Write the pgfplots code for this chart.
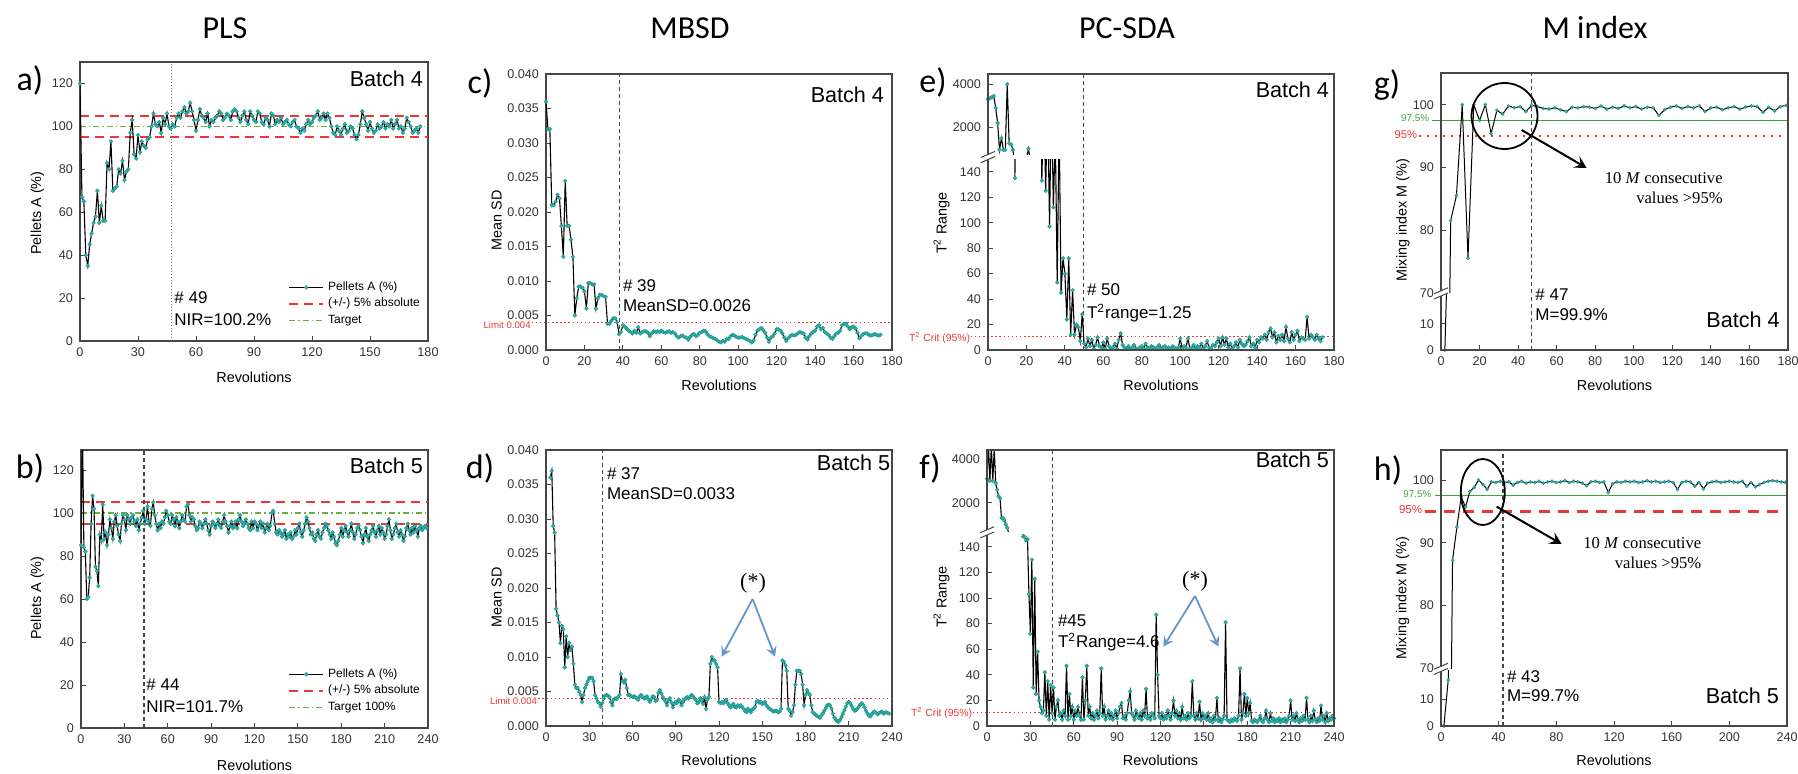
\documentclass[border=0pt]{standalone}
\usepackage{pgfplots}
\pgfplotsset{compat=1.18}
\usepackage{pgfplotstable}
\usepackage{fontspec}
\setmainfont{Liberation Sans}
\newfontfamily\calibri{Carlito}
\newfontfamily\timesf{Liberation Serif}
\usetikzlibrary{arrows.meta}
\definecolor{tq}{RGB}{40,180,170}
\definecolor{refred}{RGB}{235,55,55}
\definecolor{refgreen}{RGB}{110,170,60}
\definecolor{gline}{RGB}{60,165,60}
\definecolor{arrblue}{RGB}{100,150,205}
\definecolor{axgray}{RGB}{70,70,70}
\tikzset{
  vline/.style={axgray, line width=0.55pt, dash pattern=on 2pt off 1.5pt},
  txt/.style={font=\fontsize{8.5}{10}\selectfont, anchor=west, inner sep=0pt},
  batch/.style={font=\fontsize{10.8}{12}\selectfont, anchor=east, inner sep=0pt},
  ylab/.style={font=\fontsize{7.2}{8}\selectfont, rotate=90, inner sep=0pt},
  xlab/.style={font=\fontsize{7.2}{8}\selectfont, inner sep=0pt},
  ttl/.style={font=\calibri\fontsize{16}{18}\selectfont, inner sep=0pt},
  plab/.style={font=\calibri\fontsize{17}{19}\selectfont, inner sep=0pt},
  frame/.style={axgray, line width=0.55pt},
}
\pgfplotsset{
  base/.style={scale only axis, anchor=south west, clip mode=individual,
    axis line style={axgray, line width=0.55pt},
    tick align=inside, tick pos=left, major tick length=2.5pt,
    tick style={axgray, line width=0.45pt},
    tick label style={font=\fontsize{6.3}{7}\selectfont, text=black!80},
    /pgf/number format/assume math mode=true,
    /pgf/number format/set thousands separator={}},
  noframe/.style={axis line style={draw=none}},
  dat/.style={black, line width=0.55pt, mark=*, mark size=0.95pt,
    mark options={draw=tq!80!black, fill=tq, line width=0.2pt, solid}},
  datm/.style={black, line width=0.5pt, mark=*, mark size=0.8pt,
    mark options={draw=tq!80!black, fill=tq, line width=0.2pt, solid}},
}
\begin{document}
\pgfplotstableread[row sep=\\]{x y\\
0 120\\1 67\\2 65\\3 40\\4 35\\5 45\\6 50\\7 55\\8 58\\9 70\\
10 55\\11 63\\12 56\\13 56\\14 83\\15 80\\16 93\\17 70\\18 71\\19 72\\
20 80\\21 78\\22 84\\23 75\\24 79\\25 80\\26 97\\27 103\\28 87\\29 85\\
30 96\\31 88\\32 93\\33 91\\34 90\\35 94\\36 95\\37 100\\38 106\\39 101\\
40 100\\41 102\\42 97\\43 104\\44 101\\45 106\\46 100\\47 99\\48 101\\49 100\\
50 104\\51 106\\52 104\\53 107\\54 109\\55 106\\56 107\\57 111\\58 107\\59 103\\
60 98\\61 103\\62 108\\63 105\\64 104\\65 102\\66 106\\67 100\\68 103\\69 102\\
70 104\\71 105\\72 107\\73 106\\74 103\\75 104\\76 106\\77 105\\78 103\\79 107\\
80 108\\81 107\\82 104\\83 102\\84 105\\85 107\\86 103\\87 101\\88 107\\89 105\\
90 103\\91 102\\92 107\\93 106\\94 102\\95 101\\96 104\\97 103\\98 100\\99 106\\
100 105\\101 101\\102 103\\103 102\\104 104\\105 101\\106 102\\107 103\\108 101\\109 100\\
110 102\\111 103\\112 100\\113 99\\114 97\\115 99\\116 98\\117 101\\118 103\\119 101\\
120 102\\121 104\\122 105\\123 107\\124 103\\125 104\\126 106\\127 103\\128 106\\129 104\\
130 100\\131 97\\132 96\\133 100\\134 98\\135 96\\136 99\\137 101\\138 97\\139 98\\
140 100\\141 99\\142 96\\143 94\\144 96\\145 101\\146 107\\147 104\\148 101\\149 98\\
150 102\\151 99\\152 97\\153 98\\154 101\\155 99\\156 100\\157 102\\158 99\\159 101\\
160 100\\161 103\\162 99\\163 101\\164 103\\165 99\\166 100\\167 97\\168 99\\169 104\\
170 102\\171 100\\172 97\\173 98\\174 99\\175 97\\176 100\\
}\tabA
\pgfplotstableread[row sep=\\]{x y\\
0 85\\1 140\\2 84\\3 82\\4 60\\5 61\\6 70\\7 95\\8 108\\9 102\\
10 75\\11 73\\12 66\\13 90\\14 87\\15 104\\16 88\\17 91\\18 85\\19 90\\
20 97\\21 93\\22 88\\23 96\\24 99\\25 94\\26 90\\27 87\\28 95\\29 99\\
30 97\\31 92\\32 99\\33 97\\34 95\\35 98\\36 99\\37 96\\38 94\\39 97\\
40 92\\41 95\\42 98\\43 101\\44 95\\45 97\\46 103\\47 96\\48 94\\49 102\\
50 105\\51 99\\52 95\\53 92\\54 95\\55 93\\56 96\\57 95\\58 98\\59 101\\
60 99\\61 96\\62 95\\63 99\\64 97\\65 94\\66 98\\67 96\\68 93\\69 96\\
70 99\\71 97\\72 96\\73 103\\74 104\\75 99\\76 96\\77 98\\78 97\\79 94\\
80 92\\81 93\\82 96\\83 95\\84 93\\85 95\\86 97\\87 95\\88 92\\89 90\\
90 94\\91 96\\92 95\\93 93\\94 95\\95 97\\96 94\\97 93\\98 96\\99 99\\
100 96\\101 94\\102 91\\103 94\\104 96\\105 93\\106 94\\107 96\\108 93\\109 97\\
110 99\\111 96\\112 94\\113 95\\114 97\\115 95\\116 93\\117 92\\118 96\\119 93\\
120 96\\121 95\\122 92\\123 94\\124 96\\125 93\\126 95\\127 91\\128 93\\129 95\\
130 92\\131 94\\132 100\\133 101\\134 95\\135 91\\136 90\\137 92\\138 91\\139 89\\
140 90\\141 92\\142 88\\143 90\\144 89\\145 91\\146 88\\147 89\\148 92\\149 90\\
150 93\\151 95\\152 91\\153 89\\154 92\\155 95\\156 98\\157 96\\158 93\\159 90\\
160 91\\161 88\\162 87\\163 90\\164 92\\165 89\\166 88\\167 91\\168 93\\169 95\\
170 94\\171 92\\172 90\\173 88\\174 91\\175 89\\176 86\\177 85\\178 87\\179 90\\
180 93\\181 89\\182 92\\183 94\\184 91\\185 89\\186 92\\187 95\\188 91\\189 88\\
190 90\\191 93\\192 94\\193 92\\194 89\\195 86\\196 90\\197 93\\198 89\\199 87\\
200 90\\201 92\\202 94\\203 91\\204 89\\205 92\\206 94\\207 90\\208 93\\209 91\\
210 88\\211 90\\212 94\\213 97\\214 92\\215 88\\216 90\\217 93\\218 95\\219 91\\
220 89\\221 92\\222 90\\223 87\\224 89\\225 93\\226 95\\227 92\\228 90\\229 93\\
230 91\\231 94\\232 92\\233 89\\234 93\\235 94\\236 92\\237 93\\238 94\\239 93\\
}\tabB
\pgfplotstableread[row sep=\\]{x y\\
0 0.036\\1 0.032\\2 0.032\\3 0.021\\4 0.021\\5 0.0215\\6 0.0225\\7 0.022\\8 0.018\\9 0.0135\\
10 0.0245\\11 0.018\\12 0.018\\13 0.016\\14 0.0135\\15 0.005\\16 0.0075\\17 0.0092\\18 0.0092\\19 0.009\\
20 0.0085\\21 0.006\\22 0.0097\\23 0.0097\\24 0.0095\\25 0.0095\\26 0.006\\27 0.0075\\28 0.008\\29 0.008\\
30 0.0078\\31 0.0077\\32 0.0038\\33 0.0038\\34 0.0042\\35 0.0046\\36 0.0046\\37 0.0040\\38 0.0023\\39 0.0026\\
40 0.0036\\41 0.0034\\42 0.0031\\43 0.0028\\44 0.0026\\45 0.0024\\46 0.0028\\47 0.0025\\48 0.0033\\49 0.0024\\
50 0.0026\\51 0.0027\\52 0.0027\\53 0.0025\\54 0.0020\\55 0.0024\\56 0.0027\\57 0.0026\\58 0.0027\\59 0.0026\\
60 0.0028\\61 0.0026\\62 0.0025\\63 0.0026\\64 0.0027\\65 0.0025\\66 0.0026\\67 0.0024\\68 0.0020\\69 0.0018\\
70 0.0020\\71 0.0021\\72 0.0019\\73 0.0018\\74 0.0015\\75 0.0019\\76 0.0022\\77 0.0023\\78 0.0020\\79 0.0022\\
80 0.0025\\81 0.0026\\82 0.0028\\83 0.0027\\84 0.0023\\85 0.0020\\86 0.0019\\87 0.0017\\88 0.0016\\89 0.0014\\
90 0.0012\\91 0.0011\\92 0.0013\\93 0.0012\\94 0.0016\\95 0.0016\\96 0.0020\\97 0.0022\\98 0.0021\\99 0.0019\\
100 0.0018\\101 0.0018\\102 0.0019\\103 0.0017\\104 0.0016\\105 0.0015\\106 0.0013\\107 0.0011\\108 0.0014\\109 0.0022\\
110 0.0028\\111 0.0030\\112 0.0032\\113 0.0029\\114 0.0025\\115 0.0018\\116 0.0012\\117 0.0018\\118 0.0020\\119 0.0024\\
120 0.0030\\121 0.0030\\122 0.0028\\123 0.0024\\124 0.0018\\125 0.0013\\126 0.0017\\127 0.0020\\128 0.0022\\129 0.0021\\
130 0.0022\\131 0.0024\\132 0.0026\\133 0.0025\\134 0.0024\\135 0.0018\\136 0.0015\\137 0.0020\\138 0.0024\\139 0.0026\\
140 0.0028\\141 0.0034\\142 0.0036\\143 0.0030\\144 0.0032\\145 0.0026\\146 0.0024\\147 0.0022\\148 0.0018\\149 0.0016\\
150 0.0020\\151 0.0024\\152 0.0025\\153 0.0028\\154 0.0036\\155 0.0038\\156 0.0038\\157 0.0034\\158 0.0030\\159 0.0033\\
160 0.0034\\161 0.0031\\162 0.0025\\163 0.0017\\164 0.0020\\165 0.0023\\166 0.0024\\167 0.0024\\168 0.0022\\169 0.0021\\
170 0.0022\\171 0.0023\\172 0.0022\\173 0.0021\\174 0.0022\\
}\tabC
\pgfplotstableread[row sep=\\]{x y\\
3 0.036\\4 0.037\\5 0.029\\6 0.028\\7 0.017\\8 0.016\\9 0.015\\
10 0.012\\11 0.0145\\12 0.014\\13 0.0085\\14 0.013\\15 0.010\\16 0.012\\17 0.011\\18 0.0115\\19 0.009\\
20 0.006\\21 0.0055\\22 0.0055\\23 0.005\\24 0.0045\\25 0.0035\\26 0.0045\\27 0.0055\\28 0.006\\29 0.0065\\
30 0.007\\31 0.007\\32 0.007\\33 0.0065\\34 0.0045\\35 0.004\\36 0.0035\\37 0.0033\\38 0.0028\\39 0.0033\\
40 0.004\\41 0.0044\\42 0.0045\\43 0.0044\\44 0.0042\\45 0.0035\\46 0.0030\\47 0.0038\\48 0.0040\\49 0.0039\\
50 0.0042\\51 0.0045\\52 0.0075\\53 0.0065\\54 0.0063\\55 0.0067\\56 0.0055\\57 0.0045\\58 0.0045\\59 0.0043\\
60 0.0042\\61 0.0043\\62 0.0042\\63 0.0040\\64 0.0038\\65 0.0043\\66 0.0045\\67 0.0043\\68 0.0040\\69 0.0041\\
70 0.0043\\71 0.0039\\72 0.0035\\73 0.0039\\74 0.0043\\75 0.0042\\76 0.0036\\77 0.0038\\78 0.0048\\79 0.0052\\
80 0.0047\\81 0.0042\\82 0.0038\\83 0.0035\\84 0.0030\\85 0.0038\\86 0.0040\\87 0.0034\\88 0.0027\\89 0.0032\\
90 0.0035\\91 0.0033\\92 0.0038\\93 0.0036\\94 0.0030\\95 0.0035\\96 0.0038\\97 0.0040\\98 0.0042\\99 0.0040\\
100 0.0043\\101 0.0045\\102 0.0043\\103 0.0040\\104 0.0038\\105 0.0033\\106 0.0035\\107 0.0040\\108 0.0037\\109 0.0032\\
110 0.0042\\111 0.0025\\112 0.0038\\113 0.0042\\114 0.0090\\115 0.0100\\116 0.0095\\117 0.0095\\118 0.0090\\119 0.0085\\
120 0.0035\\121 0.0033\\122 0.0035\\123 0.0033\\124 0.0036\\125 0.0038\\126 0.0033\\127 0.0030\\128 0.0027\\129 0.0030\\
130 0.0032\\131 0.0028\\132 0.0027\\133 0.0030\\134 0.0028\\135 0.0030\\136 0.0028\\137 0.0025\\138 0.0022\\139 0.0020\\
140 0.0025\\141 0.0022\\142 0.0020\\143 0.0024\\144 0.0025\\145 0.0028\\146 0.0035\\147 0.0036\\148 0.0034\\149 0.0035\\
150 0.0032\\151 0.0033\\152 0.0035\\153 0.0030\\154 0.0027\\155 0.0025\\156 0.0024\\157 0.0022\\158 0.0021\\159 0.0022\\
160 0.0022\\161 0.0020\\162 0.0021\\163 0.0025\\164 0.0095\\165 0.0093\\166 0.0088\\167 0.0080\\168 0.0025\\169 0.0022\\
170 0.0015\\171 0.0020\\172 0.0030\\173 0.0060\\174 0.0080\\175 0.0080\\176 0.0080\\177 0.0075\\178 0.0060\\179 0.0030\\
180 0.0045\\181 0.0052\\182 0.0048\\183 0.0045\\184 0.0030\\185 0.0020\\186 0.0018\\187 0.0016\\188 0.0015\\189 0.0013\\
190 0.0012\\191 0.0015\\192 0.0018\\193 0.0022\\194 0.0026\\195 0.0030\\196 0.0031\\197 0.0030\\198 0.0025\\199 0.0018\\
200 0.0012\\201 0.0009\\202 0.0007\\203 0.0006\\204 0.0009\\205 0.0013\\206 0.0018\\207 0.0023\\208 0.0028\\209 0.0033\\
210 0.0035\\211 0.0033\\212 0.0029\\213 0.0025\\214 0.0022\\215 0.0023\\216 0.0025\\217 0.0028\\218 0.0031\\219 0.0033\\
220 0.0031\\221 0.0027\\222 0.0022\\223 0.0018\\224 0.0015\\225 0.0014\\226 0.0017\\227 0.0020\\228 0.0021\\229 0.0019\\
230 0.0017\\231 0.0019\\232 0.0020\\233 0.0021\\234 0.0018\\235 0.0019\\236 0.0020\\237 0.0019\\238 0.0018\\
}\tabD
\pgfplotstableread[row sep=\\]{x y\\
0 3300\\1 3350\\2 3400\\3 3450\\4 2900\\5 2200\\6 950\\7 1500\\8 950\\9 950\\
10 4000\\11 1250\\12 1200\\13 950\\14 135\\15 450\\16 400\\17 500\\18 350\\19 600\\
20 500\\21 1000\\22 500\\23 400\\24 300\\25 250\\26 220\\27 250\\28 133\\29 200\\
30 125\\31 200\\32 97\\33 200\\34 112\\35 170\\36 53\\37 180\\38 45\\39 72\\
40 60\\41 24\\42 72\\43 12\\44 47\\45 12\\46 20\\47 18\\48 7\\49 28\\
50 5\\51 2\\52 9\\53 3\\54 8\\55 1\\56 4\\57 10\\58 3\\59 2\\
60 6\\61 1\\62 9\\63 3\\64 1\\65 2\\66 5\\67 1\\68 8\\69 13\\
70 4\\71 2\\72 1\\73 3\\74 1\\75 2\\76 4\\77 1\\78 1\\79 2\\
80 3\\81 1\\82 5\\83 2\\84 1\\85 3\\86 2\\87 1\\88 2\\89 4\\
90 1\\91 2\\92 3\\93 1\\94 2\\95 1\\96 3\\97 2\\98 1\\99 2\\
100 9\\101 1\\102 3\\103 2\\104 9\\105 1\\106 2\\107 4\\108 1\\109 3\\
110 2\\111 5\\112 1\\113 3\\114 7\\115 2\\116 1\\117 4\\118 3\\119 6\\
120 9\\121 3\\122 10\\123 4\\124 9\\125 2\\126 5\\127 1\\128 3\\129 6\\
130 2\\131 8\\132 5\\133 3\\134 4\\135 7\\136 10\\137 3\\138 5\\139 2\\
140 8\\141 6\\142 10\\143 9\\144 12\\145 8\\146 14\\147 17\\148 10\\149 14\\
150 6\\151 11\\152 8\\153 12\\154 7\\155 18\\156 9\\157 6\\158 14\\159 8\\
160 12\\161 15\\162 7\\163 10\\164 9\\165 8\\166 26\\167 9\\168 12\\169 10\\
170 8\\171 12\\172 9\\173 7\\174 10\\
}\tabE
\pgfplotstableread[row sep=\\]{x y\\
0 3100\\1 4600\\2 3000\\3 4600\\4 3000\\5 4500\\6 2900\\7 2600\\8 2300\\9 2200\\
10 1300\\11 1300\\12 1200\\13 1000\\14 850\\15 600\\16 500\\17 450\\18 400\\19 380\\
20 350\\21 320\\22 300\\23 280\\24 250\\25 148\\26 148\\27 145\\28 146\\29 103\\
30 72\\31 130\\32 30\\33 115\\34 25\\35 58\\36 20\\37 15\\38 10\\39 12\\
40 42\\41 8\\42 35\\43 5\\44 32\\45 10\\46 30\\47 5\\48 15\\49 20\\
50 8\\51 10\\52 5\\53 12\\54 8\\55 47\\56 5\\57 25\\58 8\\59 15\\
60 5\\61 12\\62 8\\63 15\\64 8\\65 5\\66 38\\67 5\\68 20\\69 47\\
70 8\\71 15\\72 6\\73 10\\74 5\\75 8\\76 12\\77 6\\78 10\\79 45\\
80 8\\81 15\\82 5\\83 8\\84 12\\85 6\\86 10\\87 5\\88 8\\89 12\\
90 6\\91 10\\92 15\\93 18\\94 6\\95 8\\96 5\\97 10\\98 20\\99 27\\
100 10\\101 8\\102 5\\103 12\\104 8\\105 6\\106 10\\107 5\\108 12\\109 8\\
110 29\\111 6\\112 8\\113 5\\114 10\\115 8\\116 6\\117 87\\118 40\\119 8\\
120 6\\121 10\\122 5\\123 8\\124 6\\125 12\\126 8\\127 5\\128 10\\129 20\\
130 8\\131 12\\132 6\\133 10\\134 5\\135 15\\136 6\\137 8\\138 5\\139 10\\
140 6\\141 8\\142 35\\143 8\\144 5\\145 10\\146 6\\147 19\\148 5\\149 10\\
150 6\\151 8\\152 5\\153 10\\154 4\\155 6\\156 3\\157 8\\158 5\\159 22\\
160 4\\161 6\\162 3\\163 5\\164 8\\165 81\\166 5\\167 4\\168 3\\169 5\\
170 4\\171 6\\172 5\\173 4\\174 8\\175 45\\176 5\\177 10\\178 25\\179 8\\
180 22\\181 10\\182 18\\183 4\\184 3\\185 5\\186 4\\187 3\\188 5\\189 8\\
190 4\\191 3\\192 6\\193 12\\194 5\\195 3\\196 10\\197 4\\198 6\\199 3\\
200 5\\201 4\\202 6\\203 3\\204 5\\205 4\\206 6\\207 3\\208 5\\209 8\\
210 20\\211 5\\212 8\\213 4\\214 10\\215 5\\216 3\\217 6\\218 4\\219 8\\
220 5\\221 22\\222 5\\223 3\\224 8\\225 4\\226 12\\227 5\\228 3\\229 6\\
230 4\\231 16\\232 5\\233 8\\234 3\\235 10\\236 4\\237 6\\238 5\\239 8\\240 6\\
}\tabF
\pgfplotstableread[row sep=\\]{x y\\
2 0\\5 81.5\\8 85.5\\11 100\\14 75.5\\17 100\\20 97.5\\23 100\\26 95.4\\29 99.1\\
32 98.5\\35 99.8\\38 99.5\\41 99.7\\44 98.9\\47 99.9\\50 99.7\\53 99.4\\56 99.3\\59 99.5\\
62 99.2\\65 98.9\\68 99.6\\71 99.5\\74 99.7\\77 99.6\\80 99.4\\83 99.8\\86 99.3\\89 99.6\\
92 99.4\\95 99.8\\98 99.5\\101 99.7\\104 99.3\\107 99.6\\110 99.5\\113 98.3\\116 99.2\\119 99.6\\
122 99.8\\125 99.4\\128 99.7\\131 99.5\\134 99.8\\137 98.9\\140 99.5\\143 99.6\\146 99.2\\149 99.5\\
152 99.7\\155 99.3\\158 99.6\\161 99.8\\164 99.7\\167 98.8\\170 99.6\\173 99.0\\176 99.7\\179 99.9\\
}\tabG
\pgfplotstableread[row sep=\\]{x y\\
2 0\\5 17\\8 87.2\\11 92.5\\14 97.3\\17 95.7\\20 98.2\\23 98.8\\26 100\\29 99.3\\
32 98.5\\35 99.7\\38 99.6\\41 99.8\\44 99.6\\47 99.7\\50 99.2\\53 99.6\\56 99.8\\59 99.5\\
62 99.7\\65 99.6\\68 99.8\\71 99.5\\74 99.7\\77 99.8\\80 99.6\\83 99.7\\86 99.9\\89 99.6\\
92 99.8\\95 99.7\\98 99.5\\101 99.1\\104 99.7\\107 99.8\\110 99.6\\113 99.7\\116 98.0\\119 99.4\\
122 99.7\\125 99.6\\128 99.8\\131 99.7\\134 99.8\\137 99.6\\140 99.7\\143 99.9\\146 99.7\\149 99.8\\
152 99.6\\155 99.7\\158 99.8\\161 99.6\\164 98.5\\167 99.6\\170 99.8\\173 99.7\\176 99.0\\179 99.6\\
182 98.6\\185 99.5\\188 99.7\\191 99.8\\194 99.6\\197 99.7\\200 99.8\\203 99.7\\206 99.6\\209 99.8\\
212 99.0\\215 99.6\\218 98.9\\221 99.3\\224 99.6\\227 99.8\\230 99.9\\233 99.8\\236 99.7\\239 99.6\\
}\tabH
\begin{tikzpicture}
\useasboundingbox (0pt,0pt) rectangle (899pt,386.5pt);
% ---------- a) ----------
\begin{axis}[base, at={(40pt,216pt)}, width=174pt, height=139.5pt,
  xmin=0, xmax=180, xtick={0,30,...,180}, ymin=0, ymax=130, ytick={0,20,...,120},
  legend style={at={(0.995,0.03)}, anchor=south east, draw=none, fill=none,
    font=\fontsize{6}{7}\selectfont, row sep=-1.5pt, inner sep=1pt},
  legend cell align=left]
\addplot[refred, line width=0.85pt, dash pattern=on 4.5pt off 3pt, forget plot] coordinates {(0,95) (180,95)};
\addplot[refred, line width=0.85pt, dash pattern=on 4.5pt off 3pt, forget plot] coordinates {(0,105) (180,105)};
\addplot[refgreen, line width=0.7pt, dash pattern=on 3pt off 1.5pt on 0.7pt off 1.5pt, forget plot] coordinates {(0,100) (180,100)};
\draw[black!55, line width=0.5pt, dash pattern=on 0.6pt off 0.9pt] (axis cs:47.4,0) -- (axis cs:47.4,130);
\addplot[dat] table[x=x,y=y]{\tabA};
\addlegendentry{Pellets A (\%)}
\addlegendimage{refred, line width=0.85pt, dash pattern=on 4.5pt off 3pt}
\addlegendentry{(+/-) 5\% absolute}
\addlegendimage{refgreen, line width=0.7pt, dash pattern=on 3pt off 1.5pt on 0.7pt off 1.5pt}
\addlegendentry{Target}
\end{axis}
% ---------- b) ----------
\begin{axis}[base, at={(40.5pt,22.5pt)}, width=173.5pt, height=139pt,
  xmin=0, xmax=240, xtick={0,30,...,240}, ymin=0, ymax=129.3, ytick={0,20,...,120},
  legend style={at={(0.995,0.03)}, anchor=south east, draw=none, fill=none,
    font=\fontsize{6}{7}\selectfont, row sep=-1.5pt, inner sep=1pt},
  legend cell align=left]
\addplot[refred, line width=0.85pt, dash pattern=on 4.5pt off 3pt, forget plot] coordinates {(0,95) (240,95)};
\addplot[refred, line width=0.85pt, dash pattern=on 4.5pt off 3pt, forget plot] coordinates {(0,105) (240,105)};
\addplot[refgreen, line width=0.7pt, dash pattern=on 3pt off 1.5pt on 0.7pt off 1.5pt, forget plot] coordinates {(0,100) (240,100)};
\draw[vline] (axis cs:43.6,0) -- (axis cs:43.6,129.3);
\addplot[dat] table[x=x,y=y]{\tabB};
\addlegendentry{Pellets A (\%)}
\addlegendimage{refred, line width=0.85pt, dash pattern=on 4.5pt off 3pt}
\addlegendentry{(+/-) 5\% absolute}
\addlegendimage{refgreen, line width=0.7pt, dash pattern=on 3pt off 1.5pt on 0.7pt off 1.5pt}
\addlegendentry{Target 100\%}
\end{axis}
% ---------- c) ----------
\begin{axis}[base, at={(273pt,211.5pt)}, width=173pt, height=138pt,
  xmin=0, xmax=180, xtick={0,20,...,180}, ymin=0, ymax=0.04,
  ytick={0,0.005,0.01,0.015,0.02,0.025,0.03,0.035,0.04}, scaled y ticks=false,
  yticklabel style={/pgf/number format/.cd, fixed, fixed zerofill, precision=3}]
\draw[refred, line width=0.75pt, dash pattern=on 0.75pt off 1.3pt] (axis cs:-7.5,0.004) -- (axis cs:180,0.004);
\draw[vline] (axis cs:38,0) -- (axis cs:38,0.04);
\addplot[dat] table[x=x,y=y]{\tabC};
\end{axis}
% ---------- d) ----------
\begin{axis}[base, at={(273pt,23.5pt)}, width=173pt, height=138pt,
  xmin=0, xmax=240, xtick={0,30,...,240}, ymin=0, ymax=0.04,
  ytick={0,0.005,0.01,0.015,0.02,0.025,0.03,0.035,0.04}, scaled y ticks=false,
  yticklabel style={/pgf/number format/.cd, fixed, fixed zerofill, precision=3}]
\draw[refred, line width=0.75pt, dash pattern=on 0.75pt off 1.3pt] (axis cs:-5.3,0.004) -- (axis cs:240,0.004);
\draw[vline] (axis cs:39,0) -- (axis cs:39,0.04);
\addplot[dat] table[x=x,y=y]{\tabD};
\end{axis}
% ---------- e) lower ----------
\begin{axis}[base, noframe, at={(494pt,211.5pt)}, width=173pt, height=95.5pt,
  xmin=0, xmax=180, xtick={0,20,...,180}, ymin=0, ymax=150, ytick={0,20,...,140}]
\draw[refred, line width=0.75pt, dash pattern=on 0.75pt off 1.3pt] (axis cs:-9,10.5) -- (axis cs:180,10.5);
\draw[vline] (axis cs:49.7,0) -- (axis cs:49.7,150);
\addplot[dat] table[x=x,y=y]{\tabE};
\end{axis}
% ---------- e) upper ----------
\begin{axis}[base, noframe, at={(494pt,309pt)}, width=173pt, height=40.5pt,
  xmin=0, xmax=180, xtick=\empty, ymin=712, ymax=4479, ytick={2000,4000}]
\draw[vline] (axis cs:49.7,712) -- (axis cs:49.7,4479);
\addplot[dat] table[x=x,y=y]{\tabE};
\end{axis}
% ---------- f) lower ----------
\begin{axis}[base, noframe, at={(493.5pt,23.5pt)}, width=173.5pt, height=96pt,
  xmin=0, xmax=240, xtick={0,30,...,240}, ymin=0, ymax=150, ytick={0,20,...,140}]
\draw[refred, line width=0.75pt, dash pattern=on 0.75pt off 1.3pt] (axis cs:-10,10.4) -- (axis cs:240,10.4);
\draw[vline] (axis cs:45.6,0) -- (axis cs:45.6,150);
\addplot[dat] table[x=x,y=y]{\tabF};
\end{axis}
% ---------- f) upper ----------
\begin{axis}[base, noframe, at={(493.5pt,121pt)}, width=173.5pt, height=40.5pt,
  xmin=0, xmax=240, xtick=\empty, ymin=705, ymax=4412, ytick={2000,4000}]
\draw[vline] (axis cs:45.6,705) -- (axis cs:45.6,4412);
\addplot[dat] table[x=x,y=y]{\tabF};
\end{axis}
% ---------- g) lower ----------
\begin{axis}[base, noframe, at={(720.5pt,211.5pt)}, width=173.5pt, height=27.75pt,
  xmin=0, xmax=180, xtick={0,20,...,180}, ymin=0, ymax=21.3, ytick={0,10}]
\draw[vline] (axis cs:47,0) -- (axis cs:47,21.3);
\addplot[datm] table[x=x,y=y]{\tabG};
\end{axis}
% ---------- g) upper ----------
\begin{axis}[base, noframe, at={(720.5pt,240.15pt)}, width=173.5pt, height=109.85pt,
  xmin=0, xmax=180, xtick=\empty, ymin=70, ymax=105.06, ytick={70,80,90,100}]
\draw[gline, line width=0.8pt] (axis cs:-4.9,97.5) -- (axis cs:180,97.5);
\draw[refred, line width=1.2pt, dash pattern=on 1.2pt off 2.8pt] (axis cs:-11.4,95) -- (axis cs:180,95);
\draw[vline] (axis cs:47,70) -- (axis cs:47,105.06);
\addplot[datm] table[x=x,y=y]{\tabG};
\end{axis}
% ---------- h) lower ----------
\begin{axis}[base, noframe, at={(720.5pt,23.5pt)}, width=173pt, height=28pt,
  xmin=0, xmax=240, xtick={0,40,...,240}, ymin=0, ymax=20.7, ytick={0,10}]
\draw[vline] (axis cs:43,0) -- (axis cs:43,20.7);
\addplot[datm] table[x=x,y=y]{\tabH};
\end{axis}
% ---------- h) upper ----------
\begin{axis}[base, noframe, at={(720.5pt,52.35pt)}, width=173pt, height=109.15pt,
  xmin=0, xmax=240, xtick=\empty, ymin=70, ymax=104.78, ytick={70,80,90,100}]
\draw[gline, line width=0.8pt] (axis cs:-4.2,97.5) -- (axis cs:240,97.5);
\draw[refred, line width=1.6pt, dash pattern=on 5.5pt off 4pt] (axis cs:-11,95) -- (axis cs:240,95);
\draw[vline] (axis cs:43,70) -- (axis cs:43,104.78);
\addplot[datm] table[x=x,y=y]{\tabH};
\end{axis}
% ---------- frames of broken panels ----------
\draw[frame] (494pt,211.5pt) rectangle (667pt,349.5pt);
\draw[frame] (493.5pt,23.5pt) rectangle (667pt,161.5pt);
\draw[frame] (720.5pt,211.5pt) rectangle (894pt,350pt);
\draw[frame] (720.5pt,23.5pt) rectangle (893.5pt,161.5pt);
\foreach \bx/\by in {494/308, 493.5/120.3, 720.5/239.8, 720.5/52.1}{
  \fill[white] (\bx pt-2.5pt,\by pt-1.1pt) rectangle (\bx pt+2.5pt,\by pt+1.1pt);
  \draw[axgray, line width=0.5pt] (\bx pt-3.5pt,\by pt-2.8pt) -- (\bx pt+3.5pt,\by pt+0.2pt);
  \draw[axgray, line width=0.5pt] (\bx pt-3.5pt,\by pt-0.2pt) -- (\bx pt+3.5pt,\by pt+2.8pt);
}
% ---------- titles and panel letters ----------
\node[ttl] at (112.5pt,372.5pt) {PLS};
\node[ttl] at (345pt,372.5pt) {MBSD};
\node[ttl] at (563.5pt,372.5pt) {PC-SDA};
\node[ttl] at (797.5pt,372.5pt) {M index};
\node[plab] at (15pt,346.5pt) {a)};
\node[plab] at (15pt,152.3pt) {b)};
\node[plab] at (240pt,345pt) {c)};
\node[plab] at (240pt,152.5pt) {d)};
\node[plab] at (466.5pt,345.5pt) {e)};
\node[plab] at (465pt,152.5pt) {f)};
\node[plab] at (693.5pt,344pt) {g)};
\node[plab] at (694pt,151.5pt) {h)};
% ---------- axis labels ----------
\node[xlab] at (127pt,198pt) {Revolutions};
\node[xlab] at (359.5pt,194pt) {Revolutions};
\node[xlab] at (580.5pt,194pt) {Revolutions};
\node[xlab] at (807.25pt,194pt) {Revolutions};
\node[xlab] at (127.25pt,4pt) {Revolutions};
\node[xlab] at (359.5pt,6.2pt) {Revolutions};
\node[xlab] at (580.25pt,6.2pt) {Revolutions};
\node[xlab] at (807pt,6.2pt) {Revolutions};
\node[ylab] at (18.7pt,280pt) {Pellets A (\%)};
\node[ylab] at (18.7pt,87.5pt) {Pellets A (\%)};
\node[ylab] at (248.3pt,276.5pt) {Mean SD};
\node[ylab] at (248.3pt,88pt) {Mean SD};
\node[ylab] at (470.8pt,275pt) {T\textsuperscript{2} Range};
\node[ylab] at (470.8pt,88pt) {T\textsuperscript{2} Range};
\node[ylab] at (701.5pt,276.5pt) {Mixing index M (\%)};
\node[ylab] at (701.3pt,87.5pt) {Mixing index M (\%)};
% ---------- batch labels ----------
\node[batch] at (211.7pt,347.3pt) {Batch 4};
\node[batch] at (211.7pt,153.5pt) {Batch 5};
\node[batch] at (442.2pt,339pt) {Batch 4};
\node[batch] at (445.3pt,155.2pt) {Batch 5};
\node[batch] at (664.7pt,341.8pt) {Batch 4};
\node[batch] at (664.7pt,156.5pt) {Batch 5};
\node[batch] at (890pt,226.5pt) {Batch 4};
\node[batch] at (889.7pt,38.5pt) {Batch 5};
% ---------- annotations ----------
\node[txt] at (87pt,237.5pt) {\# 49};
\node[txt] at (87pt,226.5pt) {NIR=100.2\%};
\node[txt] at (73pt,44pt) {\# 44};
\node[txt] at (73pt,33.2pt) {NIR=101.7\%};
\node[txt] at (311.3pt,243.5pt) {\# 39};
\node[txt] at (311.3pt,233.5pt) {MeanSD=0.0026};
\node[txt] at (303.3pt,149.8pt) {\# 37};
\node[txt] at (303.3pt,139.5pt) {MeanSD=0.0033};
\node[txt] at (543.3pt,241.5pt) {\# 50};
\node[txt] at (543.3pt,229.8pt) {T\textsuperscript{2}range=1.25};
\node[txt] at (528.8pt,76.2pt) {\#45};
\node[txt] at (528.8pt,65.3pt) {T\textsuperscript{2}Range=4.6};
\node[txt] at (767.5pt,239pt) {\# 47};
\node[txt] at (767.5pt,229pt) {M=99.9\%};
\node[txt] at (753.3pt,48.2pt) {\# 43};
\node[txt] at (753.3pt,38.5pt) {M=99.7\%};
% limit labels
\node[font=\fontsize{4.8}{5}\selectfont, text=refred, anchor=east, inner sep=0pt] at (265.5pt,224pt) {Limit 0.004};
\node[font=\fontsize{4.8}{5}\selectfont, text=refred, anchor=east, inner sep=0pt] at (268.7pt,36.2pt) {Limit 0.004};
\node[font=\fontsize{5.2}{6}\selectfont, text=refred, anchor=east, inner sep=0pt] at (485.3pt,217.3pt) {T\textsuperscript{2} Crit (95\%)};
\node[font=\fontsize{5.2}{6}\selectfont, text=refred, anchor=east, inner sep=0pt] at (486.3pt,30.2pt) {T\textsuperscript{2} Crit (95\%)};
\node[font=\fontsize{4.9}{5}\selectfont, text=gline, anchor=east, inner sep=0pt] at (714.7pt,327.3pt) {97.5\%};
\node[font=\fontsize{5.6}{6}\selectfont, text=refred, anchor=east, inner sep=0pt] at (708.7pt,319pt) {95\%};
\node[font=\fontsize{4.9}{5}\selectfont, text=gline, anchor=east, inner sep=0pt] at (715.8pt,139.5pt) {97.5\%};
\node[font=\fontsize{5.8}{6}\selectfont, text=refred, anchor=east, inner sep=0pt] at (711.3pt,131.5pt) {95\%};
% circles and arrows in g, h
\draw[black, line width=0.9pt] (752.25pt,328.5pt) circle[radius=16.5pt];
\draw[black, line width=1pt, -{Stealth[length=6pt,width=6.5pt,inset=2.5pt]}] (760.8pt,321.5pt) -- (793.3pt,302.5pt);
\node[font=\timesf\fontsize{8.3}{10}\selectfont, align=right, anchor=north east, inner sep=0pt] at (861.5pt,300.5pt) {10 \textit{M} consecutive\\values >95\%};
\draw[black, line width=0.9pt] (741.4pt,140.5pt) ellipse[x radius=11pt, y radius=16.5pt];
\draw[black, line width=1pt, -{Stealth[length=6pt,width=6.5pt,inset=2.5pt]}] (748.3pt,133.2pt) -- (780.8pt,114.5pt);
\node[font=\timesf\fontsize{8.3}{10}\selectfont, align=right, anchor=north east, inner sep=0pt] at (850.8pt,118pt) {10 \textit{M} consecutive\\values >95\%};
% (*) in d, f
\node[font=\timesf\fontsize{11}{12}\selectfont, inner sep=0pt] at (376.5pt,95pt) {(*)};
\draw[arrblue, line width=0.9pt, -{Stealth[length=5pt,width=5.5pt,inset=2pt]}] (376.3pt,87pt) -- (360.8pt,58.2pt);
\draw[arrblue, line width=0.9pt, -{Stealth[length=5pt,width=5.5pt,inset=2pt]}] (376.3pt,87pt) -- (387.5pt,58.2pt);
\node[font=\timesf\fontsize{11}{12}\selectfont, inner sep=0pt] at (597.5pt,96pt) {(*)};
\draw[arrblue, line width=0.9pt, -{Stealth[length=5pt,width=5.5pt,inset=2pt]}] (597.5pt,88.5pt) -- (581.7pt,63.2pt);
\draw[arrblue, line width=0.9pt, -{Stealth[length=5pt,width=5.5pt,inset=2pt]}] (597.5pt,88.5pt) -- (609.2pt,63.2pt);
\end{tikzpicture}
\end{document}
